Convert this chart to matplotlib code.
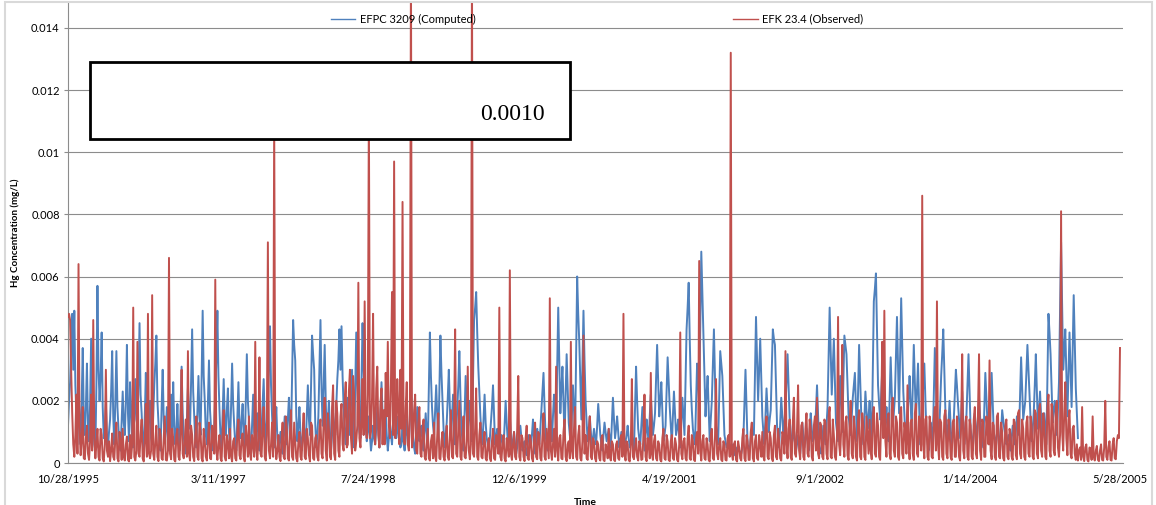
"""Hg concentration time series: computed EFPC 3209 vs observed EFK 23.4."""
import matplotlib

matplotlib.use("Agg")
import matplotlib.pyplot as plt
import matplotlib.dates as mdates
from matplotlib.lines import Line2D
from matplotlib.patches import Rectangle
from matplotlib.ticker import FuncFormatter, MultipleLocator
import numpy as np
import pandas as pd

plt.rcParams["font.family"] = ["Lato", "DejaVu Sans"]

START = "1995-10-28"
END = "2005-05-28"

# Hg in units of 1e-5 mg/L. Weekly samples start on START; the "mid" lists
# hold the samples taken half a week later (one fewer than the weekly ones).
efk_observed = [
    470, 460, 160, 20, 220, 640, 25, 180, 12, 120,
    10, 220, 460, 15, 110, 8, 90, 5, 300, 20,
    6, 95, 10, 130, 5, 70, 110, 8, 85, 5,
    15, 500, 8, 390, 20, 140, 5, 190, 480, 15,
    540, 10, 120, 6, 90, 10, 150, 8, 660, 12,
    80, 5, 110, 10, 300, 15, 140, 360, 8, 90,
    6, 150, 10, 100, 5, 70, 8, 130, 12, 85,
    590, 10, 90, 6, 170, 8, 60, 110, 5, 80,
    8, 140, 12, 95, 5, 75, 150, 10, 60, 390,
    10, 340, 20, 180, 8, 710, 15, 130, 1100, 12,
    90, 6, 130, 12, 110, 8, 170, 10, 70, 5,
    100, 10, 160, 12, 80, 5, 120, 10, 90, 8,
    140, 15, 210, 8, 110, 12, 250, 10, 160, 20,
    190, 40, 260, 60, 300, 30, 220, 70, 580, 50,
    270, 520, 80, 1150, 100, 480, 60, 310, 50, 240,
    170, 290, 390, 80, 550, 970, 120, 180, 300, 840,
    60, 260, 40, 1600, 80, 220, 30, 180, 20, 140,
    10, 110, 8, 90, 130, 6, 160, 12, 100, 8,
    120, 10, 170, 15, 430, 20, 200, 10, 150, 15,
    310, 12, 1600, 20, 240, 10, 130, 15, 100, 8,
    80, 6, 110, 10, 70, 500, 8, 90, 5, 60,
    620, 10, 100, 12, 280, 8, 80, 6, 120, 10,
    70, 5, 130, 12, 90, 8, 160, 10, 60, 530,
    10, 110, 310, 8, 90, 12, 140, 6, 70, 390,
    15, 180, 10, 120, 8, 410, 90, 10, 150, 12,
    70, 5, 60, 8, 90, 6, 50, 110, 8, 60,
    6, 70, 10, 90, 480, 8, 60, 5, 270, 12,
    80, 8, 60, 12, 220, 6, 70, 290, 10, 90,
    8, 60, 5, 110, 10, 70, 6, 90, 10, 60,
    5, 420, 12, 80, 8, 120, 10, 70, 6, 100,
    650, 8, 90, 10, 60, 5, 110, 10, 270, 12,
    80, 6, 60, 8, 90, 1320, 10, 70, 5, 50,
    8, 110, 6, 70, 10, 130, 5, 90, 10, 60,
    100, 8, 150, 12, 80, 6, 120, 12, 70, 8,
    90, 360, 15, 140, 10, 210, 20, 250, 12, 130,
    10, 160, 20, 110, 8, 150, 210, 15, 120, 12,
    130, 12, 180, 15, 90, 10, 470, 25, 380, 20,
    150, 10, 200, 15, 110, 8, 170, 12, 120, 10,
    90, 140, 12, 180, 20, 120, 10, 390, 490, 20,
    160, 12, 210, 20, 130, 10, 180, 15, 100, 250,
    12, 140, 10, 190, 20, 110, 860, 15, 150, 10,
    120, 15, 180, 520, 12, 130, 10, 170, 15, 110,
    10, 140, 20, 100, 8, 350, 15, 150, 10, 120,
    12, 180, 15, 350, 10, 130, 20, 110, 330, 12,
    120, 10, 160, 15, 100, 8, 140, 12, 90, 10,
    130, 12, 170, 15, 110, 10, 150, 20, 120, 12,
    160, 15, 190, 20, 130, 12, 220, 20, 150, 25,
    200, 20, 810, 40, 260, 25, 170, 15, 120, 10,
    8, 50, 180, 6, 60, 5, 45, 150, 8, 55,
    6, 60, 8, 200, 10, 70, 8, 80, 12, 90,
    370,
]

efk_observed_mid = [
    480, 300, 60, 90, 30, 120, 70, 15, 80, 30,
    70, 40, 90, 60, 20, 110, 15, 60, 40, 70,
    40, 20, 80, 15, 100, 10, 20, 60, 10, 90,
    60, 20, 40, 30, 90, 15, 70, 20, 30, 40,
    30, 70, 20, 110, 15, 80, 10, 40, 30, 110,
    10, 90, 20, 100, 30, 70, 20, 30, 120, 20,
    90, 20, 130, 15, 110, 20, 80, 15, 120, 30,
    40, 60, 15, 100, 20, 90, 15, 20, 70, 15,
    100, 25, 80, 20, 120, 20, 30, 90, 20, 40,
    80, 30, 110, 20, 90, 40, 60, 20, 60, 40,
    20, 80, 20, 150, 15, 100, 20, 130, 15, 70,
    20, 90, 20, 110, 25, 130, 15, 80, 20, 110,
    30, 140, 40, 160, 20, 180, 30, 200, 40, 150,
    60, 200, 50, 230, 80, 280, 40, 120, 80, 140,
    90, 120, 220, 80, 210, 100, 240, 90, 190, 60,
    60, 150, 120, 260, 90, 80, 270, 60, 110, 90,
    180, 60, 140, 50, 170, 40, 130, 30, 110, 20,
    60, 15, 70, 15, 20, 90, 15, 70, 20, 60,
    20, 90, 20, 130, 30, 110, 20, 90, 20, 70,
    40, 60, 30, 110, 20, 90, 20, 70, 15, 60,
    15, 70, 15, 90, 30, 20, 60, 15, 80, 20,
    30, 60, 20, 110, 20, 90, 20, 80, 15, 90,
    15, 80, 20, 100, 15, 90, 20, 110, 15, 40,
    60, 20, 40, 80, 15, 100, 20, 60, 15, 40,
    110, 20, 90, 15, 70, 30, 15, 100, 20, 80,
    15, 70, 15, 80, 10, 60, 15, 20, 70, 10,
    60, 15, 70, 20, 30, 70, 10, 60, 20, 50,
    20, 70, 10, 90, 20, 80, 15, 30, 70, 15,
    70, 10, 80, 15, 90, 10, 70, 15, 80, 10,
    60, 30, 70, 15, 80, 15, 90, 10, 80, 30,
    40, 70, 15, 80, 10, 90, 15, 80, 30, 60,
    10, 70, 10, 80, 20, 30, 60, 10, 70, 15,
    80, 15, 90, 10, 100, 15, 70, 15, 90, 20,
    20, 110, 20, 100, 15, 90, 20, 110, 15, 100,
    30, 60, 110, 20, 130, 30, 110, 40, 120, 20,
    110, 30, 140, 20, 120, 40, 30, 130, 20, 140,
    30, 150, 20, 140, 20, 90, 60, 110, 60, 130,
    25, 130, 30, 150, 20, 140, 20, 160, 20, 150,
    30, 40, 150, 30, 160, 20, 150, 80, 70, 140,
    30, 170, 40, 150, 20, 160, 30, 130, 30, 60,
    130, 30, 160, 30, 150, 40, 60, 140, 20, 150,
    20, 140, 40, 60, 140, 20, 150, 30, 140, 20,
    130, 20, 150, 20, 120, 40, 130, 20, 140, 20,
    140, 30, 160, 40, 140, 20, 150, 60, 40, 130,
    20, 150, 20, 130, 15, 120, 20, 110, 20, 140,
    25, 160, 30, 140, 20, 130, 30, 150, 20, 170,
    30, 170, 40, 160, 20, 180, 40, 190, 40, 180,
    50, 90, 100, 160, 80, 140, 30, 110, 30, 60,
    40, 10, 20, 50, 10, 50, 10, 20, 40, 10,
    40, 10, 50, 20, 50, 10, 60, 15, 70, 80,
]

efpc_computed = [
    120, 260, 480, 490, 150, 230, 60, 370, 90, 320,
    70, 400, 130, 40, 570, 200, 420, 80, 190, 50,
    140, 360, 60, 360, 110, 40, 230, 90, 380, 70,
    180, 50, 270, 120, 450, 160, 40, 290, 80, 200,
    60, 250, 410, 130, 40, 300, 70, 180, 40, 220,
    260, 60, 190, 40, 310, 90, 30, 240, 110, 430,
    150, 50, 280, 90, 490, 200, 60, 330, 110, 40,
    230, 490, 170, 50, 270, 90, 240, 60, 320, 120,
    40, 260, 80, 190, 50, 350, 140, 30, 220, 70,
    160, 40, 110, 270, 60, 200, 440, 150, 50, 180,
    40, 100, 30, 150, 60, 210, 90, 460, 330, 70,
    180, 40, 130, 60, 250, 90, 410, 300, 50, 150,
    460, 120, 380, 70, 200, 40, 160, 90, 270, 430,
    440, 180, 60, 210, 90, 300, 50, 420, 160, 80,
    450, 200, 70, 150, 40, 120, 60, 180, 50, 260,
    90, 170, 40, 130, 60, 220, 80, 150, 50, 110,
    40, 140, 60, 250, 90, 30, 180, 70, 120, 40,
    160, 60, 420, 180, 90, 250, 70, 410, 200, 50,
    130, 300, 80, 220, 60, 170, 360, 110, 40, 280,
    90, 200, 70, 460, 550, 310, 150, 60, 220, 80,
    40, 130, 250, 60, 110, 30, 90, 50, 200, 70,
    150, 40, 100, 30, 80, 120, 40, 70, 25, 90,
    50, 140, 30, 110, 60, 170, 290, 90, 40, 200,
    70, 220, 110, 500, 160, 310, 80, 350, 130, 60,
    250, 90, 600, 390, 140, 490, 200, 70, 150, 50,
    110, 60, 190, 90, 40, 130, 70, 110, 50, 210,
    80, 150, 50, 100, 40, 70, 120, 50, 90, 40,
    310, 110, 60, 180, 40, 140, 70, 220, 90, 160,
    380, 150, 260, 70, 120, 340, 180, 60, 230, 90,
    140, 50, 210, 90, 430, 580, 250, 110, 60, 320,
    190, 680, 430, 150, 280, 70, 200, 430, 120, 60,
    360, 280, 90, 50, 70, 30, 60, 25, 50, 40,
    30, 80, 300, 60, 40, 110, 90, 470, 200, 400,
    150, 60, 240, 100, 170, 430, 380, 120, 50, 210,
    90, 180, 350, 140, 60, 110, 40, 90, 30, 130,
    50, 110, 40, 160, 70, 90, 250, 60, 30, 120,
    60, 180, 500, 220, 400, 130, 70, 280, 100, 410,
    350, 150, 90, 210, 290, 70, 380, 160, 60, 230,
    110, 200, 60, 520, 610, 250, 140, 300, 90, 180,
    70, 340, 120, 210, 470, 160, 530, 230, 90, 150,
    280, 100, 380, 140, 320, 60, 180, 320, 90, 40,
    130, 60, 370, 150, 90, 280, 430, 170, 70, 200,
    50, 140, 300, 190, 80, 230, 60, 150, 350, 110,
    40, 160, 70, 210, 90, 50, 290, 130, 60, 290,
    100, 50, 130, 40, 170, 110, 60, 90, 40, 120,
    60, 150, 90, 340, 140, 200, 380, 220, 70, 160,
    350, 110, 230, 80, 160, 60, 480, 350, 130, 200,
    90, 260, 710, 300, 430, 150, 420, 180, 540, 240,
    80,
]

efpc_computed_mid = [
    200, 380, 300, 250, 60, 140, 200, 150, 180, 120,
    190, 200, 60, 250, 300, 280, 180, 100, 90, 100,
    230, 150, 200, 180, 60, 140, 130, 200, 160, 260,
    60, 160, 140, 250, 220, 70, 150, 120, 150, 80,
    150, 320, 200, 60, 180, 140, 110, 60, 130, 90,
    120, 110, 80, 180, 160, 40, 140, 150, 260, 230,
    70, 170, 150, 270, 280, 90, 190, 170, 50, 120,
    330, 280, 80, 160, 140, 170, 100, 180, 190, 60,
    150, 130, 140, 90, 200, 200, 60, 130, 100, 110,
    70, 80, 190, 130, 130, 310, 250, 80, 110, 80,
    70, 50, 90, 80, 140, 120, 270, 380, 150, 120,
    90, 80, 90, 160, 140, 240, 350, 130, 90, 300,
    240, 250, 200, 130, 100, 90, 110, 180, 330, 300,
    280, 100, 130, 140, 190, 150, 230, 250, 100, 260,
    300, 120, 100, 90, 70, 80, 110, 100, 150, 160,
    120, 90, 80, 90, 130, 140, 100, 90, 70, 60,
    80, 90, 150, 160, 50, 100, 110, 90, 70, 100,
    100, 240, 280, 120, 170, 150, 230, 290, 110, 90,
    210, 180, 140, 130, 110, 250, 220, 70, 160, 170,
    140, 120, 260, 500, 420, 230, 90, 140, 130, 60,
    80, 180, 150, 80, 70, 60, 70, 120, 130, 100,
    90, 70, 60, 50, 100, 80, 50, 40, 60, 70,
    90, 80, 70, 80, 110, 230, 180, 60, 120, 130,
    150, 170, 300, 330, 240, 190, 220, 240, 90, 160,
    170, 350, 480, 260, 310, 330, 130, 110, 100, 80,
    80, 120, 140, 60, 90, 100, 90, 80, 130, 140,
    110, 100, 70, 70, 60, 90, 80, 70, 60, 180,
    200, 80, 120, 110, 90, 100, 150, 150, 120, 270,
    260, 200, 160, 90, 230, 260, 120, 150, 160, 110,
    90, 130, 150, 260, 500, 400, 170, 80, 190, 250,
    430, 550, 280, 220, 170, 140, 310, 270, 90, 210,
    320, 180, 70, 60, 50, 40, 40, 35, 45, 35,
    50, 190, 180, 50, 80, 100, 280, 330, 300, 270,
    100, 150, 170, 140, 300, 400, 250, 80, 130, 150,
    130, 260, 240, 100, 80, 70, 60, 60, 80, 90,
    80, 70, 100, 110, 80, 170, 150, 40, 70, 90,
    120, 340, 360, 310, 260, 100, 170, 190, 250, 380,
    250, 120, 150, 250, 180, 220, 270, 110, 140, 170,
    150, 130, 290, 560, 430, 190, 220, 190, 130, 120,
    200, 230, 160, 340, 310, 340, 380, 160, 120, 210,
    190, 240, 260, 230, 190, 120, 250, 200, 70, 80,
    100, 210, 260, 120, 180, 350, 300, 120, 130, 120,
    90, 220, 250, 140, 150, 140, 100, 250, 230, 80,
    100, 110, 140, 150, 70, 170, 210, 90, 170, 190,
    80, 90, 80, 100, 140, 90, 70, 70, 80, 90,
    100, 120, 210, 240, 170, 290, 300, 140, 110, 250,
    230, 170, 150, 120, 110, 270, 420, 240, 170, 150,
    170, 480, 500, 360, 290, 280, 300, 360, 390, 160,
]

series_names = ["EFPC 3209 (Computed)", "EFK 23.4 (Observed)"]
series_colors = ["#4f81bd", "#c0504d"]
box_value = "0.0010"


def merge_halves(weekly, mid):
    vals = np.empty(len(weekly) + len(mid))
    vals[0::2] = weekly
    vals[1::2] = mid
    return vals * 1e-5


obs = merge_halves(efk_observed, efk_observed_mid)
comp = merge_halves(efpc_computed, efpc_computed_mid)
obs_dates = pd.date_range(START, periods=len(obs), freq="84h")
comp_dates = pd.date_range(START, periods=len(comp), freq="84h")
tick_dates = pd.date_range(START, END, freq="500D")

W, H = 1156, 505
fig = plt.figure(figsize=(W / 100, H / 100), dpi=100)
ax = fig.add_axes([68 / W, 42 / H, 1055 / W, 460 / H])

ax.plot(comp_dates, comp, color=series_colors[0], lw=1.4, zorder=2)
ax.plot(obs_dates, obs, color=series_colors[1], lw=1.4, zorder=3)

ax.set_ylim(0, 0.0148)
ax.set_xlim(pd.Timestamp(START), pd.Timestamp(END) + pd.Timedelta(days=10))
ax.yaxis.set_major_locator(MultipleLocator(0.002))
ax.yaxis.set_major_formatter(FuncFormatter(lambda v, p: f"{v:g}"))
ax.set_xticks(tick_dates)


def date_label(x, pos):
    d = mdates.num2date(x)
    return f"{d.month}/{d.day}/{d.year}"


ax.xaxis.set_major_formatter(FuncFormatter(date_label))

ax.yaxis.grid(True, color="#8c8c8c", lw=0.8)
ax.set_axisbelow(True)
for side in ["top", "right"]:
    ax.spines[side].set_visible(False)
for side in ["left", "bottom"]:
    ax.spines[side].set_color("#8c8c8c")
    ax.spines[side].set_linewidth(0.8)
ax.tick_params(axis="y", length=3, color="#8c8c8c", labelsize=8, pad=3)
ax.tick_params(axis="x", length=0, labelsize=8, pad=8)

ax.set_ylabel("Hg Concentration (mg/L)", fontsize=7, fontweight="bold")
ax.yaxis.set_label_coords(-48 / 1055, 0.5)
ax.set_xlabel("Time", fontsize=7.5, fontweight="bold")
ax.xaxis.set_label_coords(517 / 1055, -35 / 460)

handles = [Line2D([], [], color=c, lw=1.0) for c in series_colors]
fig.legend(handles, series_names, loc="center", bbox_to_anchor=(597 / W, 1 - 19 / H),
           ncol=2, frameon=False, fontsize=8, handlelength=2.2, handletextpad=0.4,
           columnspacing=23.2)

# value box over the upper-left of the plot
fig.add_artist(Rectangle((90 / W, 1 - 139 / H), 480 / W, 77 / H, transform=fig.transFigure,
                         facecolor="white", edgecolor="black", lw=2, zorder=3))
fig.text(545 / W, 1 - 115 / H, box_value, ha="right", va="center",
         family="Liberation Serif", fontsize=17, zorder=4)

# chart border
fig.add_artist(Rectangle((5 / W, -0.05), 1147 / W, 1.046, transform=fig.transFigure,
                         fill=False, edgecolor="#d9d9d9", lw=1.5, zorder=5))

fig.savefig("out.png", dpi=100)
plt.close(fig)
